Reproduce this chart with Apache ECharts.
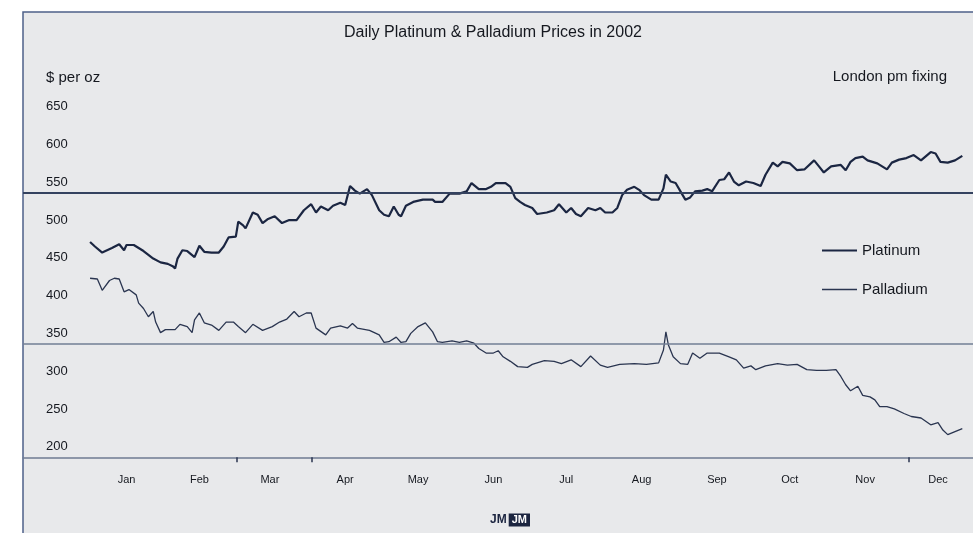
<!DOCTYPE html>
<html>
<head>
<meta charset="utf-8">
<script src="https://cdn.jsdelivr.net/npm/echarts@6.0.0/dist/echarts.min.js"></script>
<style>
  html, body { margin: 0; padding: 0; background: #fff; }
  #chart { width: 973px; height: 533px; }
</style>
</head>
<body>
<div id="chart"></div>
<script>
// month labels sit at the middle of each month (day of year)
const months = ['Jan', 'Feb', 'Mar', 'Apr', 'May', 'Jun', 'Jul', 'Aug', 'Sep', 'Oct', 'Nov', 'Dec']
const monthMid = [15, 45, 74, 105, 135, 166, 196, 227, 258, 288, 319, 349]
const tickDays = [60.5, 91.4, 337]
const refLevels = [550, 350]

// London pm fixing, $ per oz (x = day of year)
const platDays = [0, 2, 5, 7, 9, 12, 14, 15, 18, 20, 22, 24, 26, 29, 32, 34, 35, 36, 38, 40,
  43, 45, 47, 50, 53, 55, 57, 60, 61, 63, 64, 67, 69, 71, 73, 76, 79, 82, 85, 88,
  91, 93, 95, 98, 100, 103, 105, 107, 109, 111, 114, 116, 119, 121, 123, 125, 127, 128, 130, 133,
  137, 141, 142, 145, 148, 152, 155, 157, 160, 163, 165, 167, 171, 173, 175, 177, 179, 182, 184, 188,
  191, 193, 196, 198, 200, 202, 205, 208, 210, 212, 215, 217, 219, 221, 224, 226, 228, 231, 234, 236,
  237, 239, 241, 243, 245, 247, 249, 252, 254, 256, 259, 261, 263, 265, 267, 270, 273, 276, 278, 281,
  283, 285, 288, 291, 294, 298, 300, 302, 305, 309, 311, 313, 315, 318, 320, 324, 328, 330, 333, 336,
  339, 342, 346, 348, 350, 353, 356, 359]
const platPrice = [485, 479, 471, 474, 477, 482, 474, 481, 481, 477, 473, 468, 463, 458, 456, 453, 450, 463, 474, 473,
  465, 480, 472, 471, 471, 479, 491, 492, 512, 507, 503, 524, 521, 510, 515, 519, 510, 514, 514, 527,
  535, 524, 532, 527, 533, 537, 534, 559, 553, 549, 555, 547, 527, 521, 519, 532, 521, 519, 533, 538,
  541, 541, 538, 538, 549, 549, 552, 563, 555, 555, 558, 563, 563, 558, 543, 538, 534, 530, 522, 524,
  527, 535, 524, 530, 522, 519, 530, 527, 530, 524, 524, 530, 547, 554, 558, 554, 547, 541, 541, 556,
  574, 565, 563, 552, 541, 544, 552, 553, 555, 552, 567, 568, 577, 565, 560, 565, 563, 559, 574, 590,
  585, 591, 589, 580, 581, 593, 585, 577, 585, 587, 580, 591, 596, 598, 593, 589, 581, 590, 594, 596,
  600, 593, 604, 602, 591, 590, 593, 599]

const pallDays = [0, 3, 5, 8, 10, 12, 14, 16, 19, 20, 22, 24, 26, 27, 29, 31, 35, 37, 40, 42,
  43, 45, 47, 50, 53, 56, 59, 61, 64, 67, 71, 75, 78, 81, 84, 86, 89, 91, 93, 97,
  99, 103, 106, 108, 110, 115, 119, 121, 123, 126, 128, 130, 132, 135, 138, 141, 143, 145, 149, 152,
  155, 158, 160, 163, 166, 168, 170, 173, 176, 180, 182, 187, 191, 194, 198, 202, 206, 210, 213, 218,
  224, 229, 234, 236, 237, 238, 240, 243, 246, 248, 251, 254, 259, 263, 266, 269, 272, 274, 278, 283,
  287, 291, 295, 299, 303, 307, 309, 311, 313, 316, 318, 321, 323, 325, 328, 331, 335, 338, 342, 346,
  349, 351, 353, 356, 359]
const pallPrice = [437, 436, 421, 434, 437, 436, 419, 422, 415, 404, 397, 386, 393, 379, 365, 369, 369, 376, 373, 365,
  382, 391, 378, 375, 368, 379, 379, 373, 365, 376, 368, 373, 379, 383, 393, 386, 391, 391, 371, 362,
  371, 374, 371, 377, 371, 368, 362, 352, 353, 359, 352, 353, 364, 373, 378, 366, 353, 352, 354, 352,
  354, 351, 344, 338, 338, 341, 333, 327, 320, 319, 323, 328, 327, 324, 329, 320, 334, 322, 319, 323,
  324, 323, 325, 342, 366, 349, 333, 324, 323, 338, 331, 338, 338, 333, 329, 318, 321, 316, 321, 324,
  322, 323, 316, 315, 315, 316, 307, 296, 288, 294, 282, 280, 276, 267, 267, 264, 258, 254, 252, 243,
  246, 236, 230, 234, 238]

const font = 'Liberation Sans, Arial, sans-serif'
const ink = '#15181f'
const platColor = '#1b2642'
const pallColor = '#2a3550'

// legend keys: plain line segments, thick for platinum, thin for palladium
const keyThick = 'path://M0,0L0.01,0L0.01,0.01L0,0.01Z M0,5.9L35,5.9L35,8.1L0,8.1Z M34.99,13.99L35,13.99L35,14L34.99,14Z'
const keyThin = 'path://M0,0L0.01,0L0.01,0.01L0,0.01Z M0,6.35L35,6.35L35,7.65L0,7.65Z M34.99,13.99L35,13.99L35,14L34.99,14Z'

const chart = echarts.init(document.getElementById('chart'))

chart.setOption({
  backgroundColor: '#fff',
  animation: false,
  textStyle: { fontFamily: font },
  graphic: [
    {
      type: 'rect', z: -10, silent: true,
      shape: { x: 23, y: 12, width: 1000, height: 600 },
      style: { fill: '#e8e9eb', stroke: '#4d6089', lineWidth: 1.5 }
    },
    {
      type: 'text', x: 493, y: 33,
      style: { text: 'Daily Platinum & Palladium Prices in 2002', font: '16px ' + font, fill: ink, align: 'center', verticalAlign: 'middle', textAlign: 'center', textVerticalAlign: 'middle' }
    },
    {
      type: 'text', x: 46, y: 78,
      style: { text: '$ per oz', font: '15px ' + font, fill: ink, align: 'left', verticalAlign: 'middle', textAlign: 'left', textVerticalAlign: 'middle' }
    },
    {
      type: 'text', x: 947, y: 77,
      style: { text: 'London pm fixing', font: '15px ' + font, fill: ink, align: 'right', verticalAlign: 'middle', textAlign: 'right', textVerticalAlign: 'middle' }
    },
    {
      type: 'text', x: 510, y: 520,
      style: {
        text: '{u|JM}{b|JM}',
        align: 'center', verticalAlign: 'middle', textAlign: 'center', textVerticalAlign: 'middle',
        rich: {
          u: { fontFamily: font, fontSize: 12, fontWeight: 'bold', fill: '#1c2540', color: '#1c2540', padding: [0, 2, 0, 0] },
          b: { fontFamily: font, fontSize: 11, fontWeight: 'bold', fill: '#fff', color: '#fff', backgroundColor: '#1c2540', padding: [1, 3, 1, 3] }
        }
      }
    }
  ],
  legend: {
    orient: 'vertical',
    left: 817,
    top: 238,
    itemWidth: 35,
    itemHeight: 14,
    itemGap: 24,
    textStyle: { fontSize: 15, color: ink, fontFamily: font },
    data: [
      { name: 'Platinum', icon: keyThick, itemStyle: { color: platColor } },
      { name: 'Palladium', icon: keyThin, itemStyle: { color: pallColor } }
    ]
  },
  grid: { left: 23, right: 0, top: 117.3, bottom: 75.7, containLabel: false },
  xAxis: {
    type: 'value',
    min: -27.6,
    max: 363.4,
    splitLine: { show: false },
    axisLine: { show: true, lineStyle: { color: '#6f7b93', width: 1.5 } },
    axisTick: { show: true, customValues: tickDays, length: 5, lineStyle: { color: '#2a3550', width: 1.5 } },
    axisLabel: {
      customValues: monthMid,
      margin: 17,
      fontSize: 11,
      color: ink,
      formatter: v => months[monthMid.indexOf(v)] || ''
    }
  },
  yAxis: {
    type: 'value',
    min: 200,
    max: 650,
    interval: 50,
    splitLine: { show: false },
    axisLine: { show: false },
    axisTick: { show: false },
    axisLabel: {
      inside: true,
      margin: 23,
      fontSize: 13,
      color: ink,
      align: 'left',
      verticalAlign: 'bottom',
      padding: [0, 0, 4, 0]
    }
  },
  series: [
    {
      name: 'Platinum',
      type: 'line',
      symbol: 'none',
      lineStyle: { color: platColor, width: 2.2 },
      itemStyle: { color: platColor },
      data: platDays.map((d, i) => [d, platPrice[i]]),
      markLine: {
        silent: true,
        symbol: 'none',
        label: { show: false },
        data: [
          { yAxis: refLevels[0], lineStyle: { color: '#34425f', width: 2, type: 'solid' } },
          { yAxis: refLevels[1], lineStyle: { color: '#727e95', width: 1.5, type: 'solid' } }
        ]
      }
    },
    {
      name: 'Palladium',
      type: 'line',
      symbol: 'none',
      lineStyle: { color: pallColor, width: 1.3 },
      itemStyle: { color: pallColor },
      data: pallDays.map((d, i) => [d, pallPrice[i]])
    }
  ]
})
</script>
</body>
</html>
